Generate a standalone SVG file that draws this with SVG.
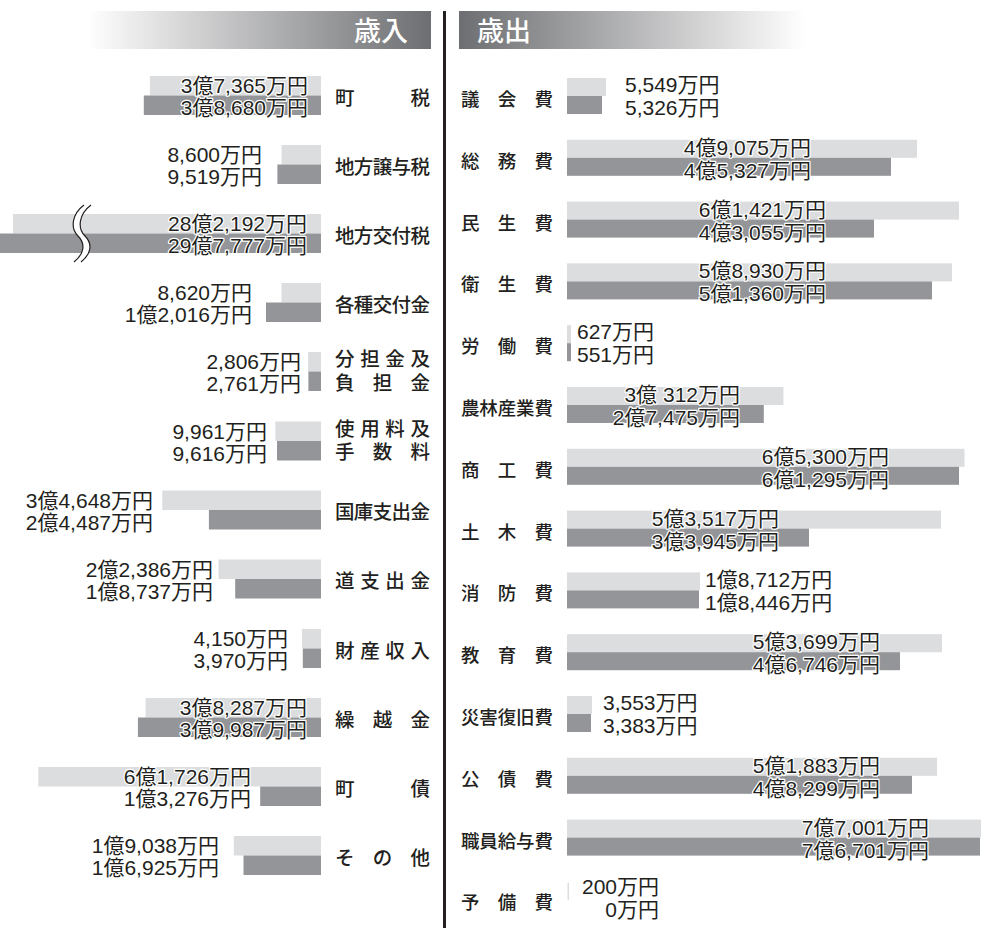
<svg xmlns="http://www.w3.org/2000/svg" width="986" height="932" viewBox="0 0 986 932">
<defs>
<linearGradient id="gIn" x1="0" y1="0" x2="1" y2="0"><stop offset="0" stop-color="#ffffff"/><stop offset="1" stop-color="#6d6e71"/></linearGradient>
<linearGradient id="gOut" x1="0" y1="0" x2="1" y2="0"><stop offset="0" stop-color="#6d6e71"/><stop offset="1" stop-color="#ffffff"/></linearGradient>
</defs>
<style>
.lb{fill:#dcdddf}
.db{fill:#939598}
.v{font-family:"Liberation Sans","Noto Sans CJK JP",sans-serif;font-size:21px;fill:#231f20;stroke:#ffffff;stroke-width:2.5px;paint-order:stroke;stroke-linejoin:round}
.e{text-anchor:end}
.L{font-family:"Noto Sans CJK JP",sans-serif;font-size:19.5px;font-weight:500;fill:#231f20}
.R{font-family:"Noto Sans CJK JP",sans-serif;font-size:18.5px;font-weight:500;fill:#231f20}
.h{font-family:"Noto Sans CJK JP",sans-serif;font-size:27px;font-weight:500;fill:#ffffff}
</style>
<rect width="986" height="932" fill="#ffffff"/>
<g id="header-in"><rect x="87" y="11" width="344" height="38" fill="url(#gIn)"/><text class="h" x="354" y="41">歳入</text></g>
<g id="header-out"><rect x="459" y="11" width="346" height="38" fill="url(#gOut)"/><text class="h" x="477" y="41">歳出</text></g>
<g id="divider"><line x1="444.5" y1="11" x2="444.5" y2="928" stroke="#231f20" stroke-width="3"/></g>

<g id="in-01"><rect class="lb" x="149.9" y="76" width="171.1" height="19.5"/><rect class="db" x="143.8" y="95.5" width="177.2" height="19.5"/><text class="v e" x="308" y="93">3億7,365万円</text><text class="v e" x="308" y="115">3億8,680万円</text><text class="L" x="335" y="104.5" textLength="95">町　　税</text></g>
<g id="in-02"><rect class="lb" x="281.6" y="145" width="39.4" height="19.5"/><rect class="db" x="277.4" y="164.5" width="43.6" height="19.5"/><text class="v e" x="262" y="162">8,600万円</text><text class="v e" x="262" y="184">9,519万円</text><text class="L" x="335" y="173.5" textLength="95">地方譲与税</text></g>
<g id="in-03"><rect class="lb" x="13" y="214" width="308" height="19.5"/><rect class="db" x="0" y="233.5" width="321" height="19.5"/>
<path d="M84 205 C72 214,70 228,78 236 C86 244,84 254,74 262 L81 262 C91 254,93 244,85 236 C77 228,79 214,91 205 Z" fill="#ffffff"/>
<path d="M84 205 C72 214,70 228,78 236 C86 244,84 254,74 262 M91 205 C79 214,77 228,85 236 C93 244,91 254,81 262" fill="none" stroke="#231f20" stroke-width="1.2"/>
<text class="v e" x="307" y="231">28億2,192万円</text><text class="v e" x="307" y="253">29億7,777万円</text><text class="L" x="335" y="242.5" textLength="95">地方交付税</text></g>
<g id="in-04"><rect class="lb" x="281.5" y="283" width="39.5" height="19.5"/><rect class="db" x="266" y="302.5" width="55" height="19.5"/><text class="v e" x="252" y="300">8,620万円</text><text class="v e" x="252" y="322">1億2,016万円</text><text class="L" x="335" y="311.5" textLength="95">各種交付金</text></g>
<g id="in-05"><rect class="lb" x="308.1" y="352" width="12.9" height="19.5"/><rect class="db" x="308.4" y="371.5" width="12.6" height="19.5"/><text class="v e" x="301" y="369">2,806万円</text><text class="v e" x="301" y="391">2,761万円</text><text class="L"><tspan x="335" y="366" textLength="95">分担金及</tspan><tspan x="335" y="390" textLength="95">負　担　金</tspan></text></g>
<g id="in-06"><rect class="lb" x="275.4" y="421.5" width="45.6" height="19.5"/><rect class="db" x="277" y="441" width="44" height="19.5"/><text class="v e" x="267" y="438.5">9,961万円</text><text class="v e" x="267" y="460.5">9,616万円</text><text class="L"><tspan x="335" y="435.5" textLength="95">使用料及</tspan><tspan x="335" y="459" textLength="95">手　数　料</tspan></text></g>
<g id="in-07"><rect class="lb" x="162.3" y="490.5" width="158.7" height="19.5"/><rect class="db" x="208.9" y="510" width="112.1" height="19.5"/><text class="v e" x="153" y="507.5">3億4,648万円</text><text class="v e" x="153" y="529.5">2億4,487万円</text><text class="L" x="335" y="519" textLength="95">国庫支出金</text></g>
<g id="in-08"><rect class="lb" x="218.5" y="559.5" width="102.5" height="19.5"/><rect class="db" x="235.2" y="579" width="85.8" height="19.5"/><text class="v e" x="213" y="576.5">2億2,386万円</text><text class="v e" x="213" y="598.5">1億8,737万円</text><text class="L" x="335" y="588" textLength="95">道支出金</text></g>
<g id="in-09"><rect class="lb" x="302" y="629" width="19" height="19.5"/><rect class="db" x="302.8" y="648.5" width="18.2" height="19.5"/><text class="v e" x="288" y="646">4,150万円</text><text class="v e" x="288" y="668">3,970万円</text><text class="L" x="335" y="657.5" textLength="95">財産収入</text></g>
<g id="in-10"><rect class="lb" x="145.6" y="698" width="175.4" height="19.5"/><rect class="db" x="137.9" y="717.5" width="183.1" height="19.5"/><text class="v e" x="307" y="715">3億8,287万円</text><text class="v e" x="307" y="737">3億9,987万円</text><text class="L" x="335" y="726.5" textLength="95">繰　越　金</text></g>
<g id="in-11"><rect class="lb" x="38.3" y="767" width="282.7" height="19.5"/><rect class="db" x="260.2" y="786.5" width="60.8" height="19.5"/><text class="v e" x="251" y="784">6億1,726万円</text><text class="v e" x="251" y="806">1億3,276万円</text><text class="L" x="335" y="795.5" textLength="95">町　　債</text></g>
<g id="in-12"><rect class="lb" x="233.8" y="836" width="87.2" height="19.5"/><rect class="db" x="243.5" y="855.5" width="77.5" height="19.5"/><text class="v e" x="219" y="853">1億9,038万円</text><text class="v e" x="219" y="875">1億6,925万円</text><text class="L" x="335" y="864.5" textLength="95">そ　の　他</text></g>

<g id="out-01"><rect class="lb" x="567" y="78" width="39" height="18"/><rect class="db" x="567" y="96" width="35" height="18"/><text class="v" x="625" y="92">5,549万円</text><text class="v" x="625" y="115">5,326万円</text><text class="R" x="461" y="106" textLength="92">議　会　費</text></g>
<g id="out-02"><rect class="lb" x="567" y="139.8" width="350" height="18"/><rect class="db" x="567" y="157.8" width="324" height="18"/><text class="v e" x="811" y="154.8">4億9,075万円</text><text class="v e" x="811" y="177.8">4億5,327万円</text><text class="R" x="461" y="167.8" textLength="92">総　務　費</text></g>
<g id="out-03"><rect class="lb" x="567" y="201.6" width="392" height="18"/><rect class="db" x="567" y="219.6" width="307" height="18"/><text class="v e" x="826" y="216.6">6億1,421万円</text><text class="v e" x="826" y="239.6">4億3,055万円</text><text class="R" x="461" y="229.6" textLength="92">民　生　費</text></g>
<g id="out-04"><rect class="lb" x="567" y="263.4" width="385" height="18"/><rect class="db" x="567" y="281.4" width="365" height="18"/><text class="v e" x="826" y="278.4">5億8,930万円</text><text class="v e" x="826" y="301.4">5億1,360万円</text><text class="R" x="461" y="291.4" textLength="92">衛　生　費</text></g>
<g id="out-05"><rect class="lb" x="567" y="325.2" width="4" height="18"/><rect class="db" x="567" y="343.2" width="4" height="18"/><text class="v" x="577" y="339.2">627万円</text><text class="v" x="577" y="362.2">551万円</text><text class="R" x="461" y="353.2" textLength="92">労　働　費</text></g>
<g id="out-06"><rect class="lb" x="567" y="387" width="216.4" height="18"/><rect class="db" x="567" y="405" width="196.8" height="18"/><text class="v e" x="740" y="402">3億 312万円</text><text class="v e" x="740" y="425">2億7,475万円</text><text class="R" x="461" y="415" textLength="92">農林産業費</text></g>
<g id="out-07"><rect class="lb" x="567" y="448.8" width="397.5" height="18"/><rect class="db" x="567" y="466.8" width="392" height="18"/><text class="v e" x="889" y="463.8">6億5,300万円</text><text class="v e" x="889" y="486.8">6億1,295万円</text><text class="R" x="461" y="476.8" textLength="92">商　工　費</text></g>
<g id="out-08"><rect class="lb" x="567" y="510.6" width="374" height="18"/><rect class="db" x="567" y="528.6" width="242" height="18"/><text class="v e" x="779" y="525.6">5億3,517万円</text><text class="v e" x="779" y="548.6">3億3,945万円</text><text class="R" x="461" y="538.6" textLength="92">土　木　費</text></g>
<g id="out-09"><rect class="lb" x="567" y="572.4" width="133" height="18"/><rect class="db" x="567" y="590.4" width="132" height="18"/><text class="v" x="705" y="587.4">1億8,712万円</text><text class="v" x="705" y="610.4">1億8,446万円</text><text class="R" x="461" y="600.4" textLength="92">消　防　費</text></g>
<g id="out-10"><rect class="lb" x="567" y="634.2" width="375" height="18"/><rect class="db" x="567" y="652.2" width="333" height="18"/><text class="v e" x="880" y="649.2">5億3,699万円</text><text class="v e" x="880" y="672.2">4億6,746万円</text><text class="R" x="461" y="662.2" textLength="92">教　育　費</text></g>
<g id="out-11"><rect class="lb" x="567" y="696" width="25" height="18"/><rect class="db" x="567" y="714" width="24" height="18"/><text class="v" x="603" y="710">3,553万円</text><text class="v" x="603" y="733">3,383万円</text><text class="R" x="461" y="724" textLength="92">災害復旧費</text></g>
<g id="out-12"><rect class="lb" x="567" y="757.8" width="370" height="18"/><rect class="db" x="567" y="775.8" width="345" height="18"/><text class="v e" x="880" y="772.8">5億1,883万円</text><text class="v e" x="880" y="795.8">4億8,299万円</text><text class="R" x="461" y="785.8" textLength="92">公　債　費</text></g>
<g id="out-13"><rect class="lb" x="567" y="819.6" width="414" height="18"/><rect class="db" x="567" y="837.6" width="413" height="18"/><text class="v e" x="929" y="834.6">7億7,001万円</text><text class="v e" x="929" y="857.6">7億6,701万円</text><text class="R" x="461" y="847.6" textLength="92">職員給与費</text></g>
<g id="out-14"><rect class="lb" x="567.5" y="883" width="1.5" height="17"/><text class="v e" x="659" y="894.4">200万円</text><text class="v e" x="659" y="917.4">0万円</text><text class="R" x="461" y="909.4" textLength="92">予　備　費</text></g>
</svg>
